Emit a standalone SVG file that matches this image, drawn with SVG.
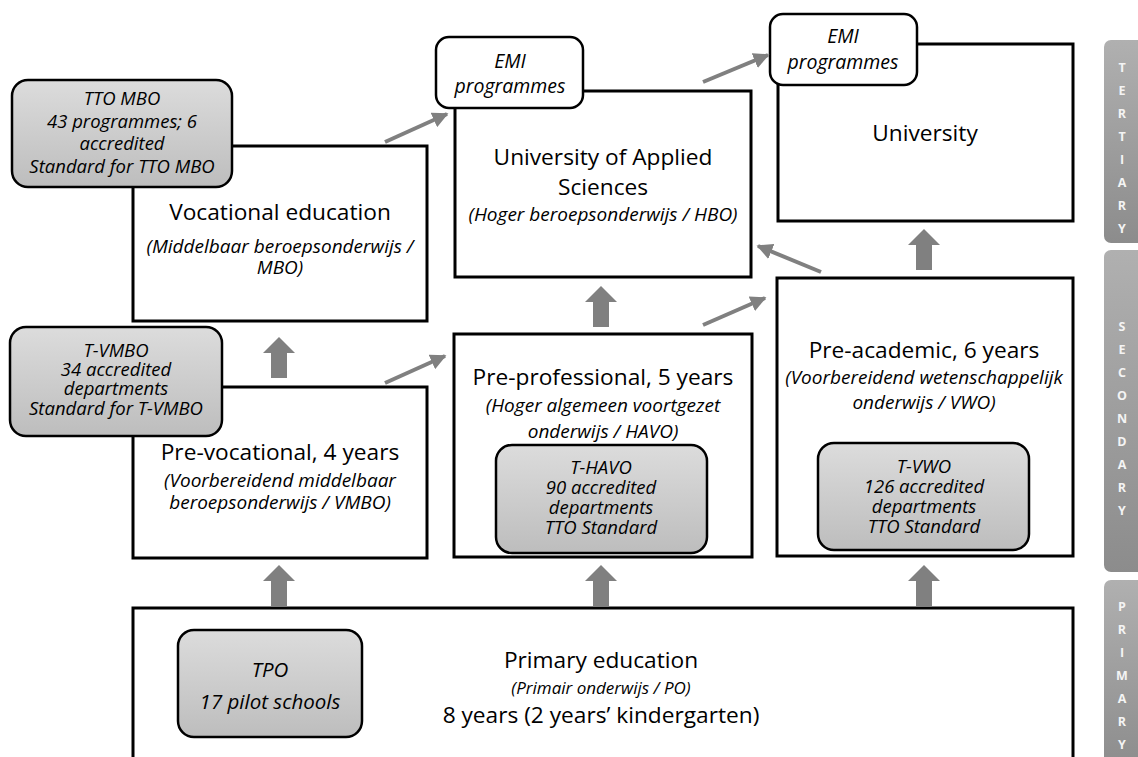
<svg xmlns="http://www.w3.org/2000/svg" width="1138" height="757" viewBox="0 0 1138 757">
<defs>
<style>
.box{fill:#fff;stroke:#000;stroke-width:3}
.tto{fill:url(#gg);stroke:#000;stroke-width:2.5}
.emi{fill:#fff;stroke:#000;stroke-width:2.5}
.t{font-family:"Open Sans","Liberation Sans",sans-serif;fill:#000;text-anchor:middle}
.h{font-size:22.7px}
.s{font-size:19px;font-style:italic}
.g{font-size:18.5px;font-style:italic}
.bar{fill:url(#bg)}
.bl{font-family:"Open Sans","Liberation Sans",sans-serif;font-size:12.5px;font-weight:bold;fill:#f4f4f4;text-anchor:middle}
.thin{stroke:#808080;stroke-width:4;fill:none;marker-end:url(#ah)}
.blk{fill:#808080}
</style>
<linearGradient id="gg" x1="0" y1="0" x2="0" y2="1"><stop offset="0" stop-color="#dcdcdc"/><stop offset="1" stop-color="#bdbdbd"/></linearGradient>
<linearGradient id="bg" x1="0" y1="0" x2="0" y2="1"><stop offset="0" stop-color="#b0b0b0"/><stop offset="1" stop-color="#8c8c8c"/></linearGradient>
<marker id="ah" viewBox="0 0 10 10" refX="9" refY="5" markerWidth="4" markerHeight="4" orient="auto"><path d="M0,0 L10,5 L0,10 Z" fill="#808080"/></marker>
<path id="up" d="M0,0 L16,16 L8,16 L8,41 L-8,41 L-8,16 L-16,16 Z"/>
</defs>
<rect width="1138" height="757" fill="#fff"/>

<g id="bars">
<rect class="bar" x="1104" y="40" width="44" height="203" rx="7"/>
<rect class="bar" x="1104" y="250" width="44" height="322" rx="7"/>
<rect class="bar" x="1104" y="580" width="44" height="190" rx="7"/>
<text class="bl" x="1122"><tspan x="1122" y="72">T</tspan><tspan x="1122" y="95">E</tspan><tspan x="1122" y="118">R</tspan><tspan x="1122" y="141">T</tspan><tspan x="1122" y="164">I</tspan><tspan x="1122" y="187">A</tspan><tspan x="1122" y="210">R</tspan><tspan x="1122" y="233">Y</tspan></text>
<text class="bl" x="1122"><tspan x="1122" y="331">S</tspan><tspan x="1122" y="354">E</tspan><tspan x="1122" y="377">C</tspan><tspan x="1122" y="400">O</tspan><tspan x="1122" y="423">N</tspan><tspan x="1122" y="446">D</tspan><tspan x="1122" y="469">A</tspan><tspan x="1122" y="492">R</tspan><tspan x="1122" y="515">Y</tspan></text>
<text class="bl" x="1122"><tspan x="1122" y="611">P</tspan><tspan x="1122" y="634">R</tspan><tspan x="1122" y="657">I</tspan><tspan x="1122" y="680">M</tspan><tspan x="1122" y="703">A</tspan><tspan x="1122" y="726">R</tspan><tspan x="1122" y="749">Y</tspan></text>
</g>

<g id="vocational">
<rect class="box" x="133" y="146" width="294" height="175"/>
<text class="t h" x="280" y="220">Vocational education</text>
<text class="t s" x="280" y="253">(Middelbaar beroepsonderwijs /</text>
<text class="t s" x="280" y="274">MBO)</text>
</g>

<g id="uas">
<rect class="box" x="455" y="91" width="296" height="186"/>
<text class="t h" x="603" y="165">University of Applied</text>
<text class="t h" x="603" y="195">Sciences</text>
<text class="t s" x="603" y="221">(Hoger beroepsonderwijs / HBO)</text>
</g>

<g id="university">
<rect class="box" x="778" y="44" width="295" height="177"/>
<text class="t h" x="925" y="141">University</text>
</g>

<g id="prevocational">
<rect class="box" x="133" y="387" width="294" height="171"/>
<text class="t h" x="280" y="460">Pre-vocational, 4 years</text>
<text class="t s" x="280" y="487">(Voorbereidend middelbaar</text>
<text class="t s" x="280" y="509">beroepsonderwijs / VMBO)</text>
</g>

<g id="preprofessional">
<rect class="box" x="454" y="334" width="298" height="223"/>
<text class="t h" x="603" y="385">Pre-professional, 5 years</text>
<text class="t s" x="603" y="412">(Hoger algemeen voortgezet</text>
<text class="t s" x="603" y="438">onderwijs / HAVO)</text>
</g>

<g id="preacademic">
<rect class="box" x="777" y="278" width="296" height="278"/>
<text class="t h" x="924" y="358">Pre-academic, 6 years</text>
<text class="t s" x="924" y="384">(Voorbereidend wetenschappelijk</text>
<text class="t s" x="924" y="409">onderwijs / VWO)</text>
</g>

<g id="primary">
<rect class="box" x="133" y="608" width="940" height="170"/>
<text class="t h" x="601" y="668">Primary education</text>
<text class="t" x="601" y="694" style="font-size:17px;font-style:italic">(Primair onderwijs / PO)</text>
<text class="t h" x="601" y="723">8 years (2 years’ kindergarten)</text>
</g>

<g id="tto-mbo">
<rect class="tto" x="12" y="80" width="220" height="107" rx="16"/>
<text class="t g" x="122" y="105">TTO MBO</text>
<text class="t g" x="122" y="128">43 programmes; 6</text>
<text class="t g" x="122" y="150">accredited</text>
<text class="t g" x="122" y="173">Standard for TTO MBO</text>
</g>

<g id="t-vmbo">
<rect class="tto" x="10" y="327" width="212" height="109" rx="16"/>
<text class="t g" x="116" y="357">T-VMBO</text>
<text class="t g" x="116" y="376">34 accredited</text>
<text class="t g" x="116" y="395">departments</text>
<text class="t g" x="116" y="415">Standard for T-VMBO</text>
</g>

<g id="t-havo">
<rect class="tto" x="496" y="445" width="211" height="108" rx="16"/>
<text class="t g" x="601" y="474">T-HAVO</text>
<text class="t g" x="601" y="494">90 accredited</text>
<text class="t g" x="601" y="514">departments</text>
<text class="t g" x="601" y="534">TTO Standard</text>
</g>

<g id="t-vwo">
<rect class="tto" x="818" y="443" width="211" height="107" rx="16"/>
<text class="t g" x="924" y="473">T-VWO</text>
<text class="t g" x="924" y="493">126 accredited</text>
<text class="t g" x="924" y="513">departments</text>
<text class="t g" x="924" y="533">TTO Standard</text>
</g>

<g id="tpo">
<rect class="tto" x="178" y="630" width="184" height="107" rx="16"/>
<text class="t" x="270" y="677" style="font-size:20.5px;font-style:italic">TPO</text>
<text class="t" x="270" y="709" style="font-size:20.5px;font-style:italic">17 pilot schools</text>
</g>

<g id="emi-hbo">
<rect class="emi" x="436" y="37" width="147" height="71" rx="13"/>
<text class="t" x="510" y="68" style="font-size:19.5px;font-style:italic">EMI</text>
<text class="t" x="510" y="93" style="font-size:19.5px;font-style:italic">programmes</text>
</g>

<g id="emi-wo">
<rect class="emi" x="770" y="14" width="147" height="71" rx="13"/>
<text class="t" x="843" y="43" style="font-size:19.5px;font-style:italic">EMI</text>
<text class="t" x="843" y="69" style="font-size:19.5px;font-style:italic">programmes</text>
</g>

<g id="connectors">
<use href="#up" class="blk" x="279" y="337"/>
<use href="#up" class="blk" x="279" y="565"/>
<use href="#up" class="blk" x="601" y="286"/>
<use href="#up" class="blk" x="601" y="565"/>
<use href="#up" class="blk" x="924" y="229"/>
<use href="#up" class="blk" x="924" y="565"/>
<line class="thin" x1="385" y1="142" x2="447" y2="114"/>
<line class="thin" x1="703" y1="82" x2="768" y2="55"/>
<line class="thin" x1="385" y1="383" x2="445" y2="356"/>
<line class="thin" x1="703" y1="325" x2="765" y2="298"/>
<line class="thin" x1="821" y1="272" x2="758" y2="246"/>
</g>
</svg>
